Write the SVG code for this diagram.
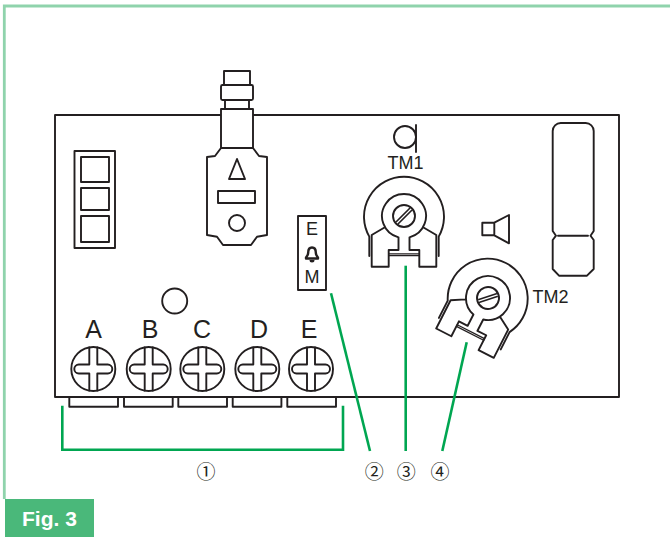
<svg xmlns="http://www.w3.org/2000/svg" width="670" height="537" viewBox="0 0 670 537">
<style>
.k{fill:none;stroke:#231f20;stroke-width:1.9;stroke-linejoin:round;stroke-linecap:round}
.w{fill:#fff;stroke:#231f20;stroke-width:1.9;stroke-linejoin:round;stroke-linecap:round}
.g{fill:none;stroke:#00a651;stroke-width:2.6;stroke-linecap:butt;stroke-linejoin:miter}
.t{font-family:"Liberation Sans",Arial,sans-serif;fill:#231f20;text-anchor:middle}
.n{font-family:"Noto Sans CJK JP","DejaVu Sans",sans-serif;fill:#231f20;text-anchor:middle;font-size:19px}
</style>
<defs>
<g id="screw">
<circle class="k" r="22"/>
<path class="k" d="M-4-21.6V-4.500H-14.500a4.500 4.500 0 0 0 0 9H-4V21.600M4-21.600V-4.500H14.500a4.500 4.500 0 0 1 0 9H4V21.600"/>
</g>
<g id="pot">
<path class="k" d="M-34.700 20.600A40 40 0 1 1 34.700 20.600M-34.700 20.600V40M34.700 20.600V40"/>
<path class="w" d="M-19.500 11.500L-32.300 19V50.700H-15.300V34H-5.500V21.300A22 22 0 1 1 5.500 21.300V34H15.300V50.700H32.300V19L19.500 11.500"/>
<path class="k" d="M-15.300 37.800H15.300M-15.300 39.600H15.300" style="stroke-width:1.300"/>
<circle class="k" r="11"/>
<path class="k" d="M-7.500 5.500L5.500-7.500M-5.500 7.500L7.500-5.500" style="stroke-width:1.600"/>
</g>
</defs>
<rect width="670" height="537" fill="#fff"/>
<path d="M4.300 499V6H670" fill="none" stroke="#8fd3ac" stroke-width="2.800"/>
<rect id="board" x="55" y="115" width="564" height="282" class="w"/>
<g id="indicator">
<rect class="k" x="74.500" y="151" width="40.500" height="97"/>
<rect class="k" x="81" y="157" width="28" height="25"/>
<rect class="k" x="81" y="188" width="28" height="22"/>
<rect class="k" x="81" y="216" width="28" height="26"/>
</g>
<g id="antenna">
<rect class="w" x="224" y="71" width="26" height="15"/>
<rect class="w" x="225" y="99" width="24" height="12"/>
<rect class="w" x="221" y="85" width="32" height="15" rx="1.500"/>
<path class="w" d="M221 109H253V148L259 156L267 157V235L257 236.700L251 245H223L217 236.700L207 235V157L215 156L221 148Z"/>
<path class="k" d="M221 148H253"/>
<path class="k" d="M237 159L245 179H229Z"/>
<rect class="k" x="218" y="191" width="37" height="12"/>
<circle class="k" cx="237" cy="223" r="8"/>
</g>
<g id="mode-switch">
<rect class="k" x="298" y="216" width="28" height="74"/>
<text class="t" x="312" y="235" font-size="18">E</text>
<path d="M312 247.500c3 0 3.800 2.500 3.800 5c0 2.300.8 3.500 2.200 5v1H306v-1c1.400-1.500 2.200-2.700 2.200-5c0-2.500.8-5 3.800-5Z" fill="#fff" stroke="#231f20" stroke-width="2.400" stroke-linejoin="round"/>
<path d="M309.500 260h5a2.500 2.500 0 0 1-5 0Z" fill="#231f20"/>
<text class="t" x="312" y="283" font-size="18">M</text>
</g>
<g id="tm1">
<circle class="k" cx="405" cy="137" r="11"/>
<path class="k" d="M416 125V152"/>
<text class="t" x="405.500" y="169" font-size="18">TM1</text>
<use href="#pot" x="404" y="216"/>
</g>
<g id="tm2">
<path class="k" d="M482.300 222.700H494.300V235.300H482.300ZM494.300 222.700L509 215V243.300L494.300 235.300"/>
<use href="#pot" transform="translate(488 298) rotate(27)"/>
<text class="t" x="532.500" y="303" font-size="18" style="text-anchor:start">TM2</text>
</g>
<g id="fuse">
<path class="k" d="M560.700 123H585.700A8 8 0 0 1 593.700 131V231L590.500 235.700L593.700 240V269L587 275.700H559L552.700 269V240L556 235.700L552.700 231V131A8 8 0 0 1 560.700 123ZM558 235.700H588"/>
</g>
<circle id="led" class="k" cx="174.700" cy="301" r="12.500"/>
<g id="terminal-a"><text class="t" x="93.700" y="338" font-size="25">A</text><use href="#screw" x="93.300" y="369"/><rect class="k" x="69.300" y="397" width="48.700" height="9.700"/></g>
<g id="terminal-b"><text class="t" x="150" y="338" font-size="25">B</text><use href="#screw" x="148.700" y="369"/><rect class="k" x="124" y="397" width="48.700" height="9.700"/></g>
<g id="terminal-c"><text class="t" x="202" y="338" font-size="25">C</text><use href="#screw" x="202.300" y="369"/><rect class="k" x="178.300" y="397" width="48.700" height="9.700"/></g>
<g id="terminal-d"><text class="t" x="259" y="338" font-size="25">D</text><use href="#screw" x="257.300" y="369"/><rect class="k" x="232.700" y="397" width="48.700" height="9.700"/></g>
<g id="terminal-e"><text class="t" x="309" y="338" font-size="25">E</text><use href="#screw" x="311" y="369"/><rect class="k" x="287.300" y="397" width="48.700" height="9.700"/></g>
<g id="connectors">
<path class="g" d="M62.300 405.700V449.700H343V405.700"/>
<path class="g" d="M331 293.300L370 451"/>
<path class="g" d="M405.700 265.700V451"/>
<path class="g" d="M466.700 342.300L442.300 451"/>
</g>
<g id="labels">
<text class="n" x="206" y="478.500">①</text>
<text class="n" x="374.300" y="478.500">②</text>
<text class="n" x="406.300" y="478.500">③</text>
<text class="n" x="440" y="478.500">④</text>
</g>
<g id="fig-tag">
<rect x="5" y="499" width="89" height="38" fill="#4ab87a"/>
<text x="22" y="526" font-family="'Liberation Sans',Arial,sans-serif" font-weight="700" font-size="21" fill="#fff">Fig. 3</text>
</g>
</svg>
